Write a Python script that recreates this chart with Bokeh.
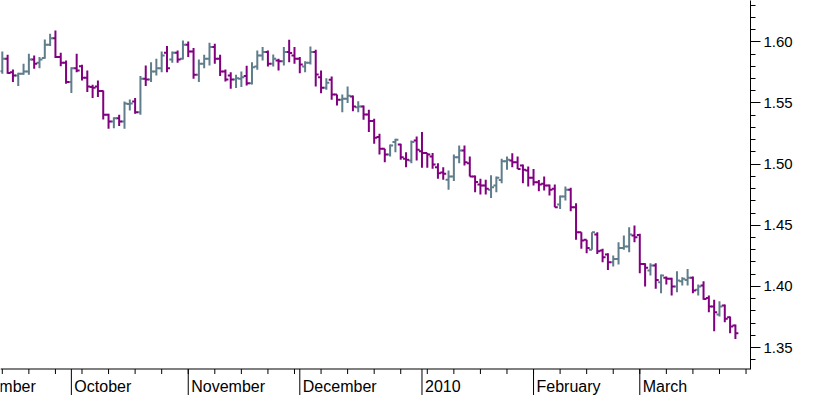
import numpy as np
import pandas as pd
from bokeh.plotting import figure
from bokeh.models import (ColumnDataSource, SingleIntervalTicker,
                          NumeralTickFormatter, Range1d, Span)
from bokeh.core.properties import value
from bokeh.transform import dodge
from bokeh.embed import file_html
from bokeh.resources import INLINE

# ---- data -------------------------------------------------------------
start_date = "2009-09-14"
end_date = "2010-03-25"

opens = [1.5760, 1.5861, 1.5752, 1.5725, 1.5739, 1.5758, 1.5856, 1.5829, 1.5867, 1.5976,
         1.6030, 1.5875, 1.5829, 1.5671, 1.5785, 1.5801, 1.5706, 1.5630, 1.5635, 1.5597,
         1.5403, 1.5349, 1.5376, 1.5349, 1.5491, 1.5512, 1.5425, 1.5698, 1.5692, 1.5758,
         1.5785, 1.5910, 1.5856, 1.5910, 1.5861, 1.5976, 1.5921, 1.5731, 1.5821, 1.5861,
         1.5957, 1.5861, 1.5758, 1.5725, 1.5692, 1.5698, 1.5720, 1.5662, 1.5799, 1.5889,
         1.5916, 1.5820, 1.5848, 1.5842, 1.5916, 1.5889, 1.5861, 1.5799, 1.5829, 1.5916,
         1.5711, 1.5624, 1.5690, 1.5570, 1.5526, 1.5534, 1.5553, 1.5466, 1.5471, 1.5406,
         1.5352, 1.5221, 1.5125, 1.5079, 1.5180, 1.5161, 1.5043, 1.5030, 1.5193, 1.5106,
         1.5090, 1.5063, 1.4975, 1.4932, 1.4872, 1.4899, 1.5057, 1.5112, 1.5008, 1.4899,
         1.4834, 1.4825, 1.4790, 1.4825, 1.4871, 1.5024, 1.5029, 1.5016, 1.4989, 1.4948,
         1.4888, 1.4852, 1.4839, 1.4825, 1.4798, 1.4670, 1.4735, 1.4790, 1.4648, 1.4443,
         1.4381, 1.4299, 1.4424, 1.4293, 1.4261, 1.4198, 1.4225, 1.4315, 1.4326, 1.4416,
         1.4421, 1.4184, 1.4130, 1.4171, 1.4034, 1.4070, 1.4062, 1.3999, 1.4043, 1.4053,
         1.4070, 1.3972, 1.4007, 1.3906, 1.3835, 1.3770, 1.3844, 1.3748, 1.3680]
highs = [1.5921, 1.5894, 1.5774, 1.5747, 1.5821, 1.5902, 1.5889, 1.5875, 1.6020, 1.6066,
         1.6093, 1.5910, 1.5848, 1.5793, 1.5902, 1.5812, 1.5766, 1.5649, 1.5684, 1.5602,
         1.5412, 1.5384, 1.5403, 1.5512, 1.5529, 1.5540, 1.5720, 1.5807, 1.5834, 1.5861,
         1.5921, 1.5965, 1.5921, 1.5930, 1.6011, 1.6003, 1.5949, 1.5856, 1.5894, 1.5992,
         1.5984, 1.5894, 1.5774, 1.5752, 1.5731, 1.5758, 1.5805, 1.5834, 1.5929, 1.5957,
         1.5929, 1.5897, 1.5861, 1.5957, 1.6017, 1.5957, 1.5875, 1.5842, 1.5962, 1.5935,
         1.5766, 1.5703, 1.5717, 1.5570, 1.5570, 1.5635, 1.5561, 1.5515, 1.5480, 1.5444,
         1.5371, 1.5248, 1.5125, 1.5161, 1.5207, 1.5166, 1.5098, 1.5193, 1.5226, 1.5262,
         1.5090, 1.5090, 1.5008, 1.4975, 1.4948, 1.5079, 1.5153, 1.5153, 1.5063, 1.4907,
         1.4880, 1.4872, 1.4910, 1.4899, 1.5043, 1.5062, 1.5089, 1.5062, 1.4997, 1.4980,
         1.4961, 1.4871, 1.4899, 1.4833, 1.4833, 1.4743, 1.4817, 1.4806, 1.4680, 1.4443,
         1.4381, 1.4443, 1.4443, 1.4307, 1.4272, 1.4253, 1.4362, 1.4416, 1.4484, 1.4498,
         1.4430, 1.4190, 1.4190, 1.4190, 1.4097, 1.4081, 1.4070, 1.4124, 1.4075, 1.4143,
         1.4081, 1.4015, 1.4043, 1.3925, 1.3890, 1.3879, 1.3852, 1.3754, 1.3688]
lows = [1.5739, 1.5739, 1.5671, 1.5638, 1.5731, 1.5731, 1.5780, 1.5785, 1.5861, 1.5965,
        1.5867, 1.5801, 1.5657, 1.5581, 1.5752, 1.5684, 1.5589, 1.5540, 1.5548, 1.5365,
        1.5289, 1.5294, 1.5311, 1.5289, 1.5439, 1.5412, 1.5403, 1.5638, 1.5671, 1.5725,
        1.5752, 1.5752, 1.5829, 1.5829, 1.5856, 1.5875, 1.5698, 1.5671, 1.5785, 1.5807,
        1.5821, 1.5720, 1.5676, 1.5616, 1.5622, 1.5630, 1.5643, 1.5651, 1.5771, 1.5848,
        1.5799, 1.5799, 1.5766, 1.5807, 1.5834, 1.5820, 1.5744, 1.5752, 1.5815, 1.5635,
        1.5580, 1.5608, 1.5526, 1.5480, 1.5425, 1.5499, 1.5433, 1.5425, 1.5362, 1.5262,
        1.5166, 1.5079, 1.5016, 1.5063, 1.5098, 1.5035, 1.4975, 1.5008, 1.5030, 1.4970,
        1.4970, 1.4962, 1.4880, 1.4872, 1.4790, 1.4861, 1.5008, 1.4989, 1.4899, 1.4771,
        1.4752, 1.4752, 1.4724, 1.4771, 1.4844, 1.4953, 1.4975, 1.4961, 1.4844, 1.4817,
        1.4825, 1.4779, 1.4784, 1.4743, 1.4648, 1.4634, 1.4702, 1.4615, 1.4381, 1.4307,
        1.4272, 1.4299, 1.4266, 1.4198, 1.4135, 1.4163, 1.4179, 1.4299, 1.4280, 1.4362,
        1.4108, 1.3999, 1.4089, 1.3980, 1.3945, 1.4015, 1.3925, 1.3953, 1.4007, 1.4007,
        1.3945, 1.3925, 1.3890, 1.3789, 1.3634, 1.3754, 1.3707, 1.3617, 1.3571]
closes = [1.5861, 1.5745, 1.5725, 1.5739, 1.5758, 1.5856, 1.5821, 1.5856, 1.5976, 1.6030,
          1.5875, 1.5829, 1.5671, 1.5785, 1.5766, 1.5706, 1.5635, 1.5624, 1.5597, 1.5403,
          1.5349, 1.5376, 1.5349, 1.5496, 1.5496, 1.5425, 1.5698, 1.5692, 1.5758, 1.5785,
          1.5889, 1.5785, 1.5910, 1.5856, 1.5976, 1.5921, 1.5731, 1.5821, 1.5861, 1.5957,
          1.5861, 1.5758, 1.5692, 1.5692, 1.5703, 1.5711, 1.5662, 1.5793, 1.5889, 1.5916,
          1.5820, 1.5861, 1.5842, 1.5916, 1.5908, 1.5861, 1.5815, 1.5829, 1.5916, 1.5733,
          1.5624, 1.5665, 1.5570, 1.5526, 1.5534, 1.5559, 1.5471, 1.5471, 1.5406, 1.5352,
          1.5215, 1.5125, 1.5079, 1.5153, 1.5199, 1.5057, 1.5035, 1.5180, 1.5117, 1.5090,
          1.5079, 1.4997, 1.4926, 1.4921, 1.4899, 1.5057, 1.5112, 1.5016, 1.4899, 1.4853,
          1.4825, 1.4798, 1.4810, 1.4888, 1.5024, 1.5035, 1.5016, 1.4961, 1.4953, 1.4888,
          1.4852, 1.4833, 1.4825, 1.4790, 1.4648, 1.4735, 1.4790, 1.4648, 1.4443, 1.4375,
          1.4315, 1.4443, 1.4288, 1.4239, 1.4198, 1.4225, 1.4315, 1.4326, 1.4424, 1.4402,
          1.4184, 1.4152, 1.4171, 1.4053, 1.4089, 1.4062, 1.3999, 1.4048, 1.4062, 1.4070,
          1.3966, 1.3999, 1.3898, 1.3835, 1.3789, 1.3835, 1.3735, 1.3672, 1.3617]

month_firsts = ["2009-09-01", "2009-10-01", "2009-11-02", "2009-12-01",
                "2010-01-01", "2010-02-01", "2010-03-01"]
month_labels = ["September", "October", "November", "December",
                "2010", "February", "March"]

# ---- positions (trading-day index) -------------------------------------
dates = pd.bdate_range(start_date, end_date)
xs = np.arange(len(dates))
month_pos = [int(np.busday_count(start_date, d)) for d in month_firsts]
mondays = pd.date_range(start_date, "2010-03-29", freq="W-MON")
monday_pos = [int(np.busday_count(start_date, d.strftime("%Y-%m-%d"))) for d in mondays]

UP = "#607d8b"
DOWN = "#800080"
colors = [UP if c >= o else DOWN for o, c in zip(opens, closes)]
src = ColumnDataSource(dict(x=xs, o=opens, h=highs, l=lows, c=closes, color=colors))

FONT = "Liberation Sans"

# layout geometry (pixels)
FW, FH = 750, 395          # frame
AXIS_PX = 368.5            # bottom axis line, from frame top
X0, X1 = -0.34, 140.84
Y_TOP, Y_BOT = 1.6338, 1.3108
PX = FH / (Y_TOP - Y_BOT)  # pixels per price unit
Y_AXIS = Y_TOP - AXIS_PX / PX

p = figure(frame_width=FW, frame_height=FH,
           x_range=Range1d(X0, X1), y_range=Range1d(Y_BOT, Y_TOP),
           x_axis_location=None, y_axis_location="right",
           output_backend="svg", toolbar_location=None,
           min_border_left=0, min_border_top=0, min_border_right=67,
           min_border_bottom=0, background_fill_color="white",
           border_fill_color="white")
p.outline_line_color = None
p.xgrid.visible = False
p.ygrid.visible = False

# OHLC bars
tick = 0.56
p.segment(x0="x", y0="l", x1="x", y1="h", color="color", line_width=2, source=src)
p.segment(x0=dodge("x", -tick), y0="o", x1="x", y1="o", color="color",
          line_width=2, source=src)
p.segment(x0="x", y0="c", x1=dodge("x", tick), y1="c", color="color",
          line_width=2, source=src)

# right price axis
ya = p.yaxis[0]
ya.bounds = (Y_AXIS, Y_TOP)
ya.ticker = SingleIntervalTicker(interval=0.05, num_minor_ticks=5)
ya.formatter = NumeralTickFormatter(format="0.00")
ya.major_tick_out = 10
ya.major_tick_in = 0
ya.minor_tick_out = 5
ya.minor_tick_in = 0
ya.major_label_standoff = 3
ya.axis_line_color = "black"
ya.major_tick_line_color = "black"
ya.minor_tick_line_color = "black"
ya.major_label_text_font = FONT
ya.major_label_text_font_size = "15px"
ya.major_label_text_color = "black"

# bottom time axis (line, month lines, weekly ticks, month names)
p.add_layout(Span(location=Y_AXIS, dimension="width", line_color="black", line_width=1))
p.segment(x0=month_pos, y0=[Y_AXIS] * len(month_pos), x1=month_pos,
          y1=[Y_BOT] * len(month_pos), color="black", line_width=1)
p.segment(x0=monday_pos, y0=[Y_AXIS] * len(monday_pos), x1=monday_pos,
          y1=[Y_AXIS - 5 / PX] * len(monday_pos), color="black", line_width=1)
p.text(x=month_pos, y=[Y_AXIS - 17 / PX] * len(month_pos), text=month_labels,
       x_offset=3, text_align="left", text_baseline="middle",
       text_font=value(FONT), text_font_size="16px", text_color="black")

open("out.html", "w").write(file_html(p, INLINE))
